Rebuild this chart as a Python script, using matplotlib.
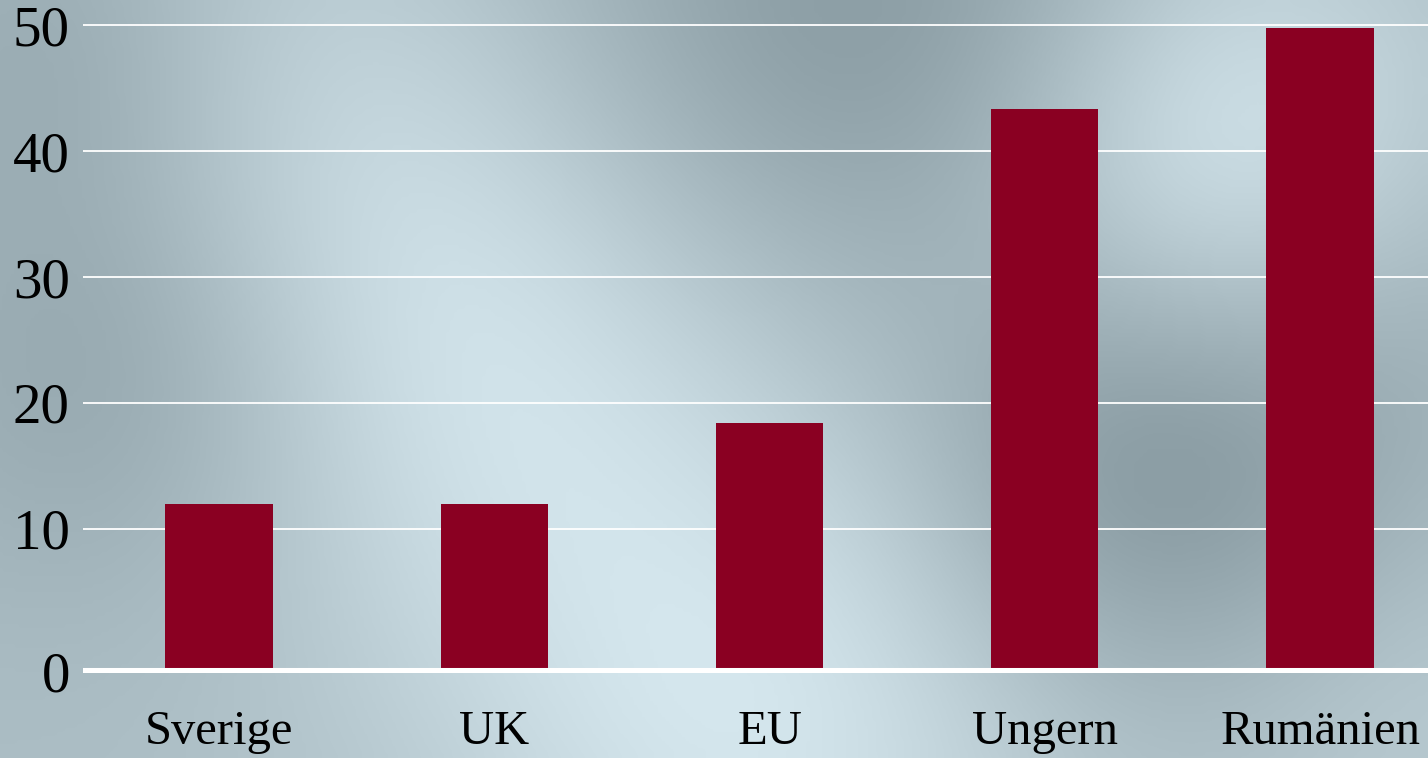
import numpy as np
import matplotlib
matplotlib.use("Agg")
import matplotlib.pyplot as plt

# Chart data
countries = ["Sverige", "UK", "EU", "Ungern", "Rumänien"]
values = [12.0, 12.0, 18.4, 43.3, 49.8]
yticks = [0, 10, 20, 30, 40, 50]

bar_color = "#8a0022"
baseline = -1.35  # the white base line (and its "0") sits a bit below zero in the original

plt.rcParams["font.family"] = ["Liberation Serif", "DejaVu Serif"]

fig = plt.figure(figsize=(14.28, 7.58), dpi=100)

# soft blurred grey-blue backdrop (light and dark patches)
bg = fig.add_axes([0, 0, 1, 1], zorder=0)
bg.axis("off")
h, w = 190, 357
yy, xx = np.mgrid[0:h, 0:w] / np.array([h, w])[:, None, None] * np.array([758, 1428])[:, None, None]
base = np.array([172, 190, 197], dtype=float)
img = np.tile(base, (h, w, 1))
patches = [
    # x, y, radius, strength (+ lighter, - darker)
    (1210, 150, 170, 48), (470, 330, 220, 35), (760, 720, 230, 38),
    (300, 80, 200, 15), (1400, 700, 150, 12),
    (760, 40, 220, -28), (1150, 460, 170, -42), (130, 360, 170, -28),
    (1020, 20, 180, -18), (60, 40, 140, -20), (1400, 320, 150, -12),
]
for px, py, r, s in patches:
    g = np.exp(-((xx - px) ** 2 + (yy - py) ** 2) / (2 * r ** 2))
    img += s * g[..., None]
bg.imshow(np.clip(img, 0, 255).astype(np.uint8), aspect="auto",
          extent=[0, 1, 0, 1], interpolation="bicubic")
bg.set_xlim(0, 1)
bg.set_ylim(0, 1)

ax = fig.add_axes([0.0581, 0.1127, 0.9419, 0.8609], zorder=1)
ax.patch.set_alpha(0)
x = np.arange(len(countries))
ax.bar(x, [v - baseline for v in values], bottom=baseline, width=0.39,
       color=bar_color, zorder=2)

ax.set_ylim(-1.4, 50.4)
ax.set_xlim(-0.494, 4.392)
tick_pos = [baseline] + yticks[1:]
ax.set_yticks(tick_pos)
ax.set_yticklabels([str(t) for t in yticks])
ax.set_xticks(x)
ax.set_xticklabels(countries)
ax.tick_params(axis="y", length=0, pad=9.5, labelsize=41)
ax.tick_params(axis="x", length=0, pad=27, labelsize=35)

for t in yticks[1:]:
    ax.axhline(t, color="white", lw=1.3, zorder=1)
ax.axhline(baseline, color="white", lw=5.8, zorder=3)

for s in ax.spines.values():
    s.set_visible(False)

fig.savefig("out.png", dpi=100)
